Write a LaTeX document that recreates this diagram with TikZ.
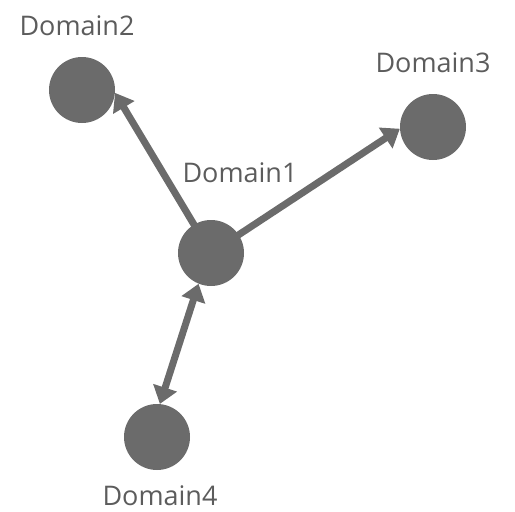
\documentclass[tikz,border=0pt]{standalone}
\usepackage{fontspec}
\setmainfont{Open Sans}
\usetikzlibrary{arrows.meta}
\definecolor{domfill}{HTML}{6B6B6B}
\definecolor{domtext}{HTML}{5C5C5C}
\begin{document}
\begin{tikzpicture}[x=1pt,y=-1pt,
  dombox/.style={circle,fill=domfill,minimum size=66pt,inner sep=0pt},
  dlabel/.style={text=domtext,font=\fontsize{27}{30}\selectfont,anchor=base,inner sep=0pt},
  link/.style={draw=domfill,line width=7pt,-{Triangle[length=17pt,width=24pt]}},
  dlink/.style={draw=domfill,line width=7pt,{Triangle[length=17pt,width=24pt]}-{Triangle[length=17pt,width=24pt]}}]
  \useasboundingbox (0,0) rectangle (515,512);
  % domains
  \node[dombox] (d1) at (211,253) {};
  \node[dombox] (d2) at (82,90) {};
  \node[dombox] (d3) at (433,127) {};
  \node[dombox] (d4) at (157,437) {};
  % labels
  \node[dlabel] (l2) at (77,35) {Domain2};
  \node[dlabel] (l3) at (433,72) {Domain3};
  \node[dlabel] (l1) at (240,182) {Domain1};
  \node[dlabel] (l4) at (160,505) {Domain4};
  % connectors
  \draw[link] (d1.center) -- (d2.-5);
  \draw[link] (d1.center) -- (d3.183);
  \draw[dlink] (d1.-112) -- (d4.85);
\end{tikzpicture}
\end{document}
